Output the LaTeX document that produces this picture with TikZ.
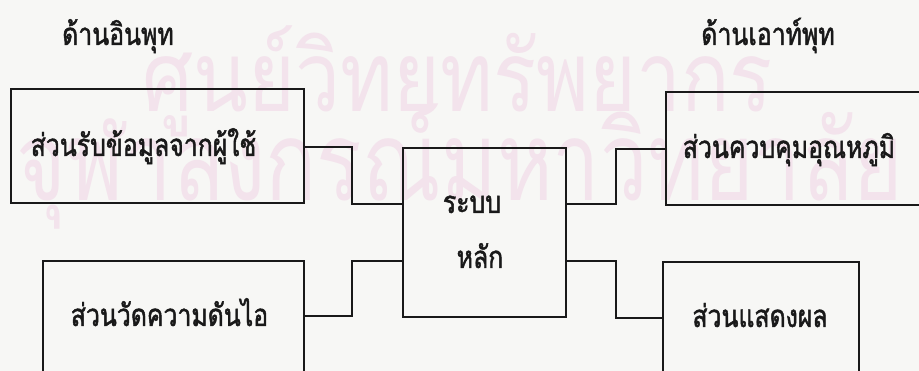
\documentclass[tikz,border=0pt]{standalone}
\usepackage{fontspec}
\newfontfamily\thaifont[Script=Thai]{Loma}
\newfontfamily\thaibody[Script=Thai,FakeStretch=0.8,FakeBold=1.5]{Loma}
\definecolor{ink}{RGB}{25,25,25}
\definecolor{paper}{RGB}{247,247,245}
\definecolor{wmpink}{RGB}{243,227,236}
\begin{document}
\begin{tikzpicture}[x=1pt,y=-1pt,
  blk/.style={draw=ink, line width=1.6pt, inner sep=0pt},
  wire/.style={draw=ink, line width=1.5pt},
  lbl/.style={font=\thaibody\fontsize{31}{36}\selectfont, text=ink, anchor=base, inner sep=0pt},
  wm/.style={font=\thaifont\fontsize{60}{60}\selectfont, text=wmpink, anchor=base, inner sep=0pt}]
\useasboundingbox (0,0) rectangle (919,371);
\clip (0,0) rectangle (919,371);
\fill[paper] (0,0) rectangle (919,371);
% watermark
\node[wm] (wm1) at (458,112) {\scalebox{1}[1.22]{\resizebox{630pt}{!}{ศูนย์วิทยทรัพยากร}}};
\node[wm] (wm2) at (460,201) {\scalebox{1}[1.3]{\resizebox{886pt}{!}{จุฬาลงกรณ์มหาวิทยาลัย}}};
% titles
\node[lbl] (tin) at (118,45) {ด้านอินพุท};
\node[lbl] (tout) at (768,45) {ด้านเอาท์พุท};
% boxes
\node[blk, minimum width=293pt, minimum height=114pt] (b1) at (157.5,146) {};
\node[blk, minimum width=261pt, minimum height=139pt] (b2) at (173.5,330.5) {};
\node[blk, minimum width=163pt, minimum height=169pt] (main) at (484.5,232.5) {};
\node[blk, minimum width=274pt, minimum height=113pt] (b3) at (803,148.5) {};
\node[blk, minimum width=196pt, minimum height=138pt] (b4) at (761,331) {};
% labels
\node[lbl] (l1) at (143.5,156) {ส่วนรับข้อมูลจากผู้ใช้};
\node[lbl] (l2) at (169.5,326) {ส่วนวัดความดันไอ};
\node[lbl] (lm1) at (472,213) {ระบบ};
\node[lbl] (lm2) at (480,268) {หลัก};
\node[lbl] (l3) at (789,158) {ส่วนควบคุมอุณหภูมิ};
\node[lbl] (l4) at (760,327) {ส่วนแสดงผล};
% connectors
\draw[wire] (b1.east |- 352,147) -- (352,147) -- (352,204) -- (main.west |- 352,204);
\draw[wire] (b2.east |- 352,316) -- (352,316) -- (352,261) -- (main.west |- 352,261);
\draw[wire] (main.east |- 616,204) -- (616,204) -- (616,149) -- (b3.west |- 616,149);
\draw[wire] (main.east |- 616,261) -- (616,261) -- (616,318) -- (b4.west |- 616,318);
\end{tikzpicture}
\end{document}
